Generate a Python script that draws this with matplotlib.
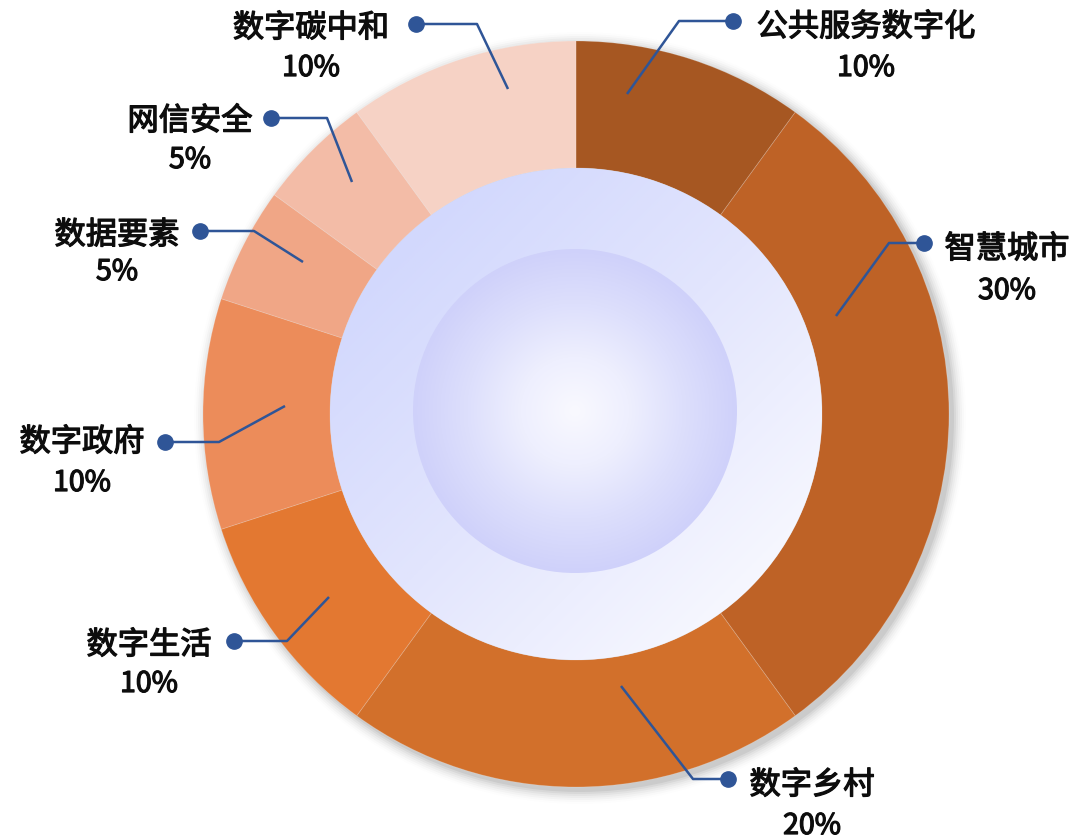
import numpy as np
import matplotlib
matplotlib.use("Agg")
import matplotlib.pyplot as plt
import matplotlib.patheffects as pe
from matplotlib.patches import Circle
from matplotlib.colors import LinearSegmentedColormap

plt.rcParams['font.family'] = ['Noto Sans CJK SC', 'DejaVu Sans']

# ---- data ----
categories = ["公共服务数字化", "智慧城市", "数字乡村", "数字生活", "数字政府", "数据要素", "网信安全", "数字碳中和"]
values = [10, 30, 20, 10, 10, 5, 5, 10]
colors = ["#A65722", "#BE6226", "#D2702B", "#E37831", "#EC8C5A", "#F0A686", "#F3BCA7", "#F6D2C5"]

# ---- layout (pixel offsets from donut centre; y up) ----
R_OUT, R_IN = 373, 246
R_SPHERE = 162
leaders = [  # start, kink, dot, text x, line1 y, line2 y
    ((51, 320), (103, 393), (157, 393), 290, 387, 346),
    ((260, 98), (313, 171), (348, 171), 431, 165, 123),
    ((45, -272), (117, -365), (152, -365), 236, -371, -412),
    ((-247, -183), (-289, -227), (-342, -227), -427, -231, -270),
    ((-291, 8), (-357, -28), (-411, -28), -494, -28, -69),
    ((-273, 152), (-322, 183), (-376, 183), -459, 179, 142),
    ((-224, 232), (-249, 296), (-305, 296), -386, 293, 254),
    ((-68, 325), (-99, 390), (-160, 390), -265, 386, 346),
]

fig = plt.figure(figsize=(10.76, 8.4), dpi=100)
ax = fig.add_axes([0, 0, 1, 1])

# soft shadow (offset to lower right)
for i, a in enumerate(np.linspace(0.05, 0.008, 7)):
    ax.add_patch(Circle((4, -4), R_OUT + 1 + 2 * i, color='black', alpha=a, lw=0, zorder=0))

ax.pie(values, colors=colors, radius=R_OUT, center=(0, 0), startangle=90,
       counterclock=False,
       wedgeprops=dict(width=R_OUT - R_IN, linewidth=0.6, edgecolor=(1, 1, 1, 0.2)),
       frame=True)
ax.set_xlim(-576, 500)
ax.set_ylim(-426, 414)
ax.set_aspect('equal')
ax.axis('off')

# inner disc with linear gradient (top-left darker, bottom-right lighter)
n = 400
xx, yy = np.meshgrid(np.linspace(-1, 1, n), np.linspace(1, -1, n))
t = np.clip((xx - yy) / np.sqrt(2) * 0.5 + 0.5, 0, 1)
cmap1 = LinearSegmentedColormap.from_list('c1', ["#D2D8FD", "#E2E5FD", "#F6F7FF"])
im1 = ax.imshow(t, cmap=cmap1, extent=(-R_IN, R_IN, -R_IN, R_IN), zorder=3, interpolation='bilinear')
clip1 = Circle((0, 0), R_IN, transform=ax.transData)
im1.set_clip_path(clip1)

# inner sphere radial gradient
cx, cy = -1, 3
rr = np.sqrt(xx ** 2 + yy ** 2)
cmap2 = LinearSegmentedColormap.from_list('c2', ["#F9F9FF", "#EEEFFE", "#DDDFFC", "#CFD1FA"])
im2 = ax.imshow(np.clip(rr, 0, 1), cmap=cmap2, vmin=0, vmax=1,
                extent=(cx - R_SPHERE, cx + R_SPHERE, cy - R_SPHERE, cy + R_SPHERE),
                zorder=4, interpolation='bilinear')
clip2 = Circle((cx, cy), R_SPHERE, transform=ax.transData)
im2.set_clip_path(clip2)

ax.set_xlim(-576, 500)
ax.set_ylim(-426, 414)

# leader lines and labels
line_col = "#2F5597"
txt_col = '#0D0D0D'
thick = [pe.withStroke(linewidth=0.9, foreground=txt_col)]
for (s, k, d, tx, y1, y2), cat, v in zip(leaders, categories, values):
    ax.plot([s[0], k[0], d[0]], [s[1], k[1], d[1]], color=line_col, lw=1.8, zorder=6,
            solid_capstyle='butt')
    ax.plot(d[0], d[1], 'o', color=line_col, ms=11, zorder=7)
    ax.text(tx, y1, cat, ha='center', va='center', fontsize=22.5,
            color=txt_col, zorder=8, path_effects=thick)
    ax.text(tx, y2, f"{v}%", ha='center', va='center', fontsize=20.5,
            color=txt_col, zorder=8, path_effects=thick)

fig.savefig("out.png", dpi=100)
